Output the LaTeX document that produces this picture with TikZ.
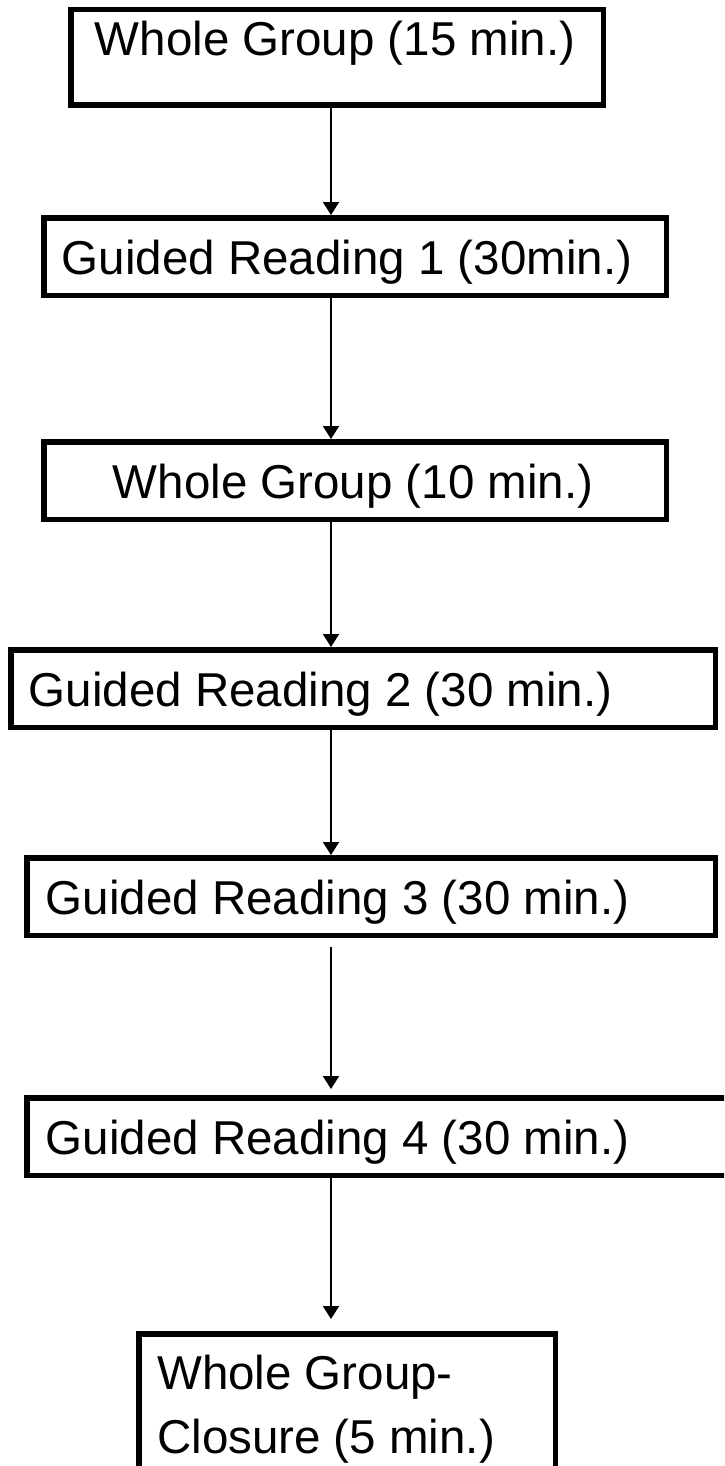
\documentclass[tikz,border=0pt]{standalone}
\usepackage{fontspec}
\setmainfont{Liberation Sans}
\usetikzlibrary{arrows.meta}
\begin{document}
\begin{tikzpicture}[x=1pt,y=-1pt,
  box/.style={draw, line width=5.5pt, rectangle, inner sep=0pt},
  lbl/.style={anchor=base west, inner sep=0pt, align=left, font=\fontsize{47.5}{64}\selectfont},
  arr/.style={-{Triangle[length=13pt,width=16pt]}, line width=2pt}]
\clip (0,0) rectangle (724,1466);
\fill[white] (0,0) rectangle (724,1466);
% boxes
\node[box, minimum width=532.5pt, minimum height=95.5pt] (b1) at (337,57.5) {};
\node[box, minimum width=622.5pt, minimum height=77.5pt] (b2) at (355,256.5) {};
\node[box, minimum width=622.5pt, minimum height=77.5pt] (b3) at (355,480.5) {};
\node[box, minimum width=704.5pt, minimum height=77.5pt] (b4) at (363,688.5) {};
\node[box, minimum width=688.5pt, minimum height=77.5pt] (b5) at (371,896.5) {};
\node[box, minimum width=710.5pt, minimum height=77.5pt] (b6) at (382,1136.5) {};
\node[box, minimum width=416.5pt, minimum height=156pt] (b7) at (347,1411.75) {};
% texts
\node[lbl] (t1) at (94.6,56) {Whole Group (15 min.)};
\node[lbl] (t2) at (61.7,274) {Guided Reading 1 (30min.)};
\node[lbl] (t3) at (112.6,498) {Whole Group (10 min.)};
\node[lbl] (t4) at (28.7,706) {Guided Reading 2 (30 min.)};
\node[lbl] (t5) at (45.7,914) {Guided Reading 3 (30 min.)};
\node[lbl] (t6) at (45.7,1154) {Guided Reading 4 (30 min.)};
\node[lbl] (t7) at (157,1453) {Whole Group-\\Closure (5 min.)};
% connectors
\coordinate (ax) at (331,0);
\draw[arr] (b1.south -| ax) -- (b2.north -| ax);
\draw[arr] (b2.south -| ax) -- (b3.north -| ax);
\draw[arr] (b3.south -| ax) -- (b4.north -| ax);
\draw[arr] (b4.south -| ax) -- (b5.north -| ax);
\draw[arr, shorten <=9pt, shorten >=6pt] (b5.south -| ax) -- (b6.north -| ax);
\draw[arr, shorten >=12pt] (b6.south -| ax) -- (b7.north -| ax);
\end{tikzpicture}
\end{document}
